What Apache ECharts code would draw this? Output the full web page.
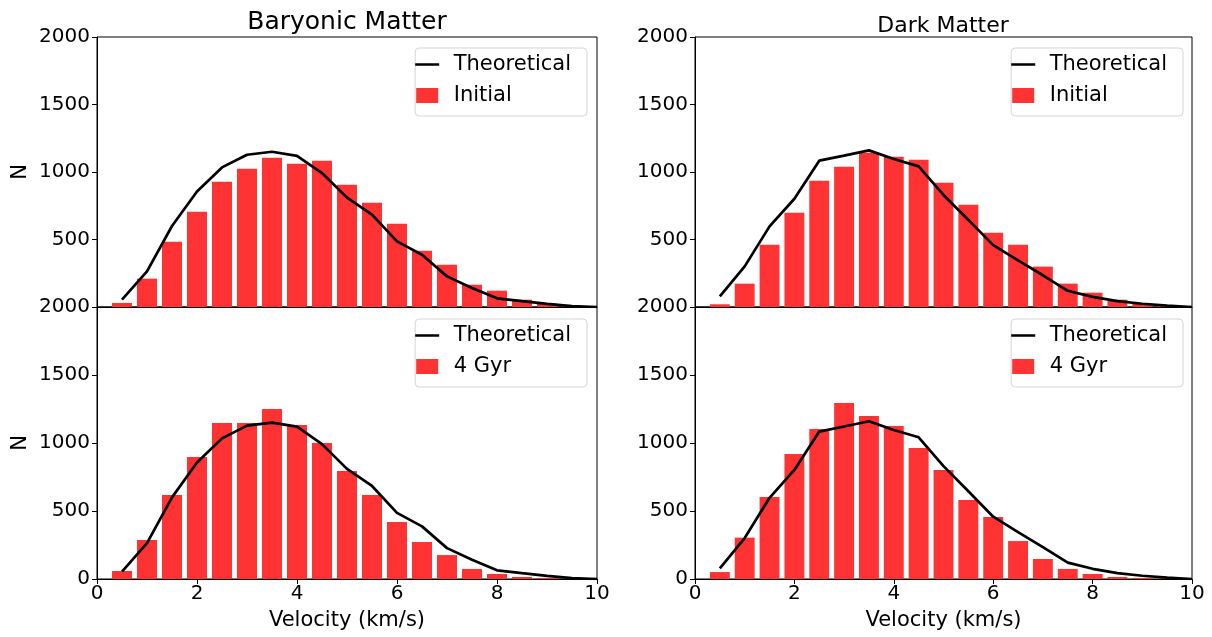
<!DOCTYPE html>
<html>
<head>
<meta charset="utf-8">
<script src="https://cdn.jsdelivr.net/npm/echarts@6/dist/echarts.min.js"></script>
<style>
html,body{margin:0;padding:0;background:#fff;}
#c{width:1212px;height:637px;}
</style>
</head>
<body>
<div id="c"></div>
<script>
// ---- data ----
const barX = [0.5,1,1.5,2,2.5,3,3.5,4,4.5,5,5.5,6,6.5,7,7.5,8,8.5,9,9.5];
const theoryX = [0.5,1,1.5,2,2.5,3,3.5,4,4.5,5,5.5,6,6.5,7,7.5,8,8.5,9,9.5,10];
const baryTheory = [54,264,600,856,1034,1128,1150,1120,992,810,684,486,387,227,141,64,43,23,7,0];
const darkTheory = [78,301,597,802,1084,1121,1160,1096,1042,830,645,458,345,235,120,75,43,24,10,0];
const baryInitial = [30,210,484,706,928,1024,1106,1061,1084,906,773,617,417,313,165,121,54,25,8];
const darkInitial = [20,173,461,699,936,1039,1143,1113,1091,921,758,550,461,299,173,106,54,25,8];
const bary4Gyr = [59,287,618,897,1147,1147,1250,1132,1000,794,618,419,272,176,74,37,15,8,2];
const dark4Gyr = [51,304,603,919,1103,1294,1199,1125,963,801,581,456,279,147,74,37,15,8,3];
const xTicks = {min:0, max:10, interval:2};
const yTicks = {min:0, max:2000, interval:500};
const titles = ['Baryonic Matter','Dark Matter'];
const legendNames = ['Theoretical','Initial','4 Gyr'];
const xName = 'Velocity (km/s)';
const yName = 'N';

// ---- chart ----
const FONT = 'DejaVu Sans';
const RED = '#ff3333';
const pairs = (xs, ys) => ys.map((v,i)=>[xs[i], v]);

const grids = [
  {left:97, top:37, width:500, height:270},
  {left:97, top:307, width:500, height:272},
  {left:695, top:37, width:497, height:270},
  {left:695, top:307, width:497, height:272}
].map(g => Object.assign(g, {show:true, borderColor:'#000', borderWidth:1, containLabel:false}));

const isBottom = i => i % 2 === 1;
const isLeft = i => i < 2;

const xAxes = grids.map((g,i)=>({
  type:'value', gridIndex:i, min:xTicks.min, max:xTicks.max, interval:xTicks.interval,
  splitLine:{show:false},
  axisLine:{show:true, onZero:false, lineStyle:{color:'#000', width:1}},
  axisTick:{show:isBottom(i), inside:false, length:5, lineStyle:{color:'#000', width:1}},
  axisLabel:{show:isBottom(i), color:'#000', fontFamily:FONT, fontSize:20, margin:5,
             formatter:v=>String(v)},
  name: (isBottom(i) ? xName : ''), nameLocation:'middle', nameGap:31,
  nameTextStyle:{color:'#000', fontFamily:FONT, fontSize:21, verticalAlign:'top'}
}));

const yAxes = grids.map((g,i)=>({
  type:'value', gridIndex:i, min:yTicks.min, max:yTicks.max, interval:yTicks.interval,
  splitLine:{show:false},
  axisLine:{show:true, lineStyle:{color:'#000', width:1}},
  axisTick:{show:true, inside:false, length:5, lineStyle:{color:'#000', width:1}},
  axisLabel:{color:'#000', fontFamily:FONT, fontSize:20, margin:7, showMinLabel:isBottom(i),
             formatter:v=>String(v)},
  name: (isLeft(i) ? yName : ''), nameLocation:'middle', nameGap:66, nameRotate:90,
  nameTextStyle:{color:'#000', fontFamily:FONT, fontSize:21}
}));

const panels = [
  {theory:baryTheory, bars:baryInitial, label:legendNames[1], barW:20},
  {theory:baryTheory, bars:bary4Gyr, label:legendNames[2], barW:20},
  {theory:darkTheory, bars:darkInitial, label:legendNames[1], barW:19.9},
  {theory:darkTheory, bars:dark4Gyr, label:legendNames[2], barW:19.9}
];

const series = [];
panels.forEach((p,i)=>{
  series.push({
    type:'bar', name:p.label, xAxisIndex:i, yAxisIndex:i,
    data:pairs(barX, p.bars), barWidth:p.barW, z:2,
    itemStyle:{color:RED}
  });
  series.push({
    type:'line', name:legendNames[0], xAxisIndex:i, yAxisIndex:i,
    data:pairs(theoryX, p.theory), showSymbol:false, symbol:'none', z:3,
    color:'#000', itemStyle:{color:'#000'},
    lineStyle:{color:'#000', width:2.7}
  });
});

const LINE_ICON = 'path://M0 6.2H24V8.8H0Z M12 0H12.01V15H12Z';
const RECT_ICON = 'path://M0 0H22V15H0Z';
const legendTops = [48, 319, 48, 319];
const legendRights = [625, 625, 29, 29];
const legends = panels.map((p,i)=>({
  orient:'vertical', top:legendTops[i], right:legendRights[i],
  padding:[6,16,10,0], itemGap:10, itemWidth:43, itemHeight:15,
  borderColor:'#d5d5d5', borderWidth:1, borderRadius:4, backgroundColor:'rgba(255,255,255,0.8)',
  textStyle:{color:'#000', fontFamily:FONT, fontSize:21},
  selectedMode:false, symbolKeepAspect:true,
  data:[
    {name:legendNames[0], icon:LINE_ICON},
    {name:p.label, icon:RECT_ICON}
  ]
}));

const chart = echarts.init(document.getElementById('c'), null, {renderer:'canvas'});
chart.setOption({
  animation:false,
  backgroundColor:'#fff',
  title:[
    {text:titles[0], left:347, top:10, textAlign:'center', padding:0,
     textStyle:{color:'#000', fontFamily:FONT, fontSize:25, fontWeight:'normal'}},
    {text:titles[1], left:943, top:15, textAlign:'center', padding:0,
     textStyle:{color:'#000', fontFamily:FONT, fontSize:22, fontWeight:'normal'}}
  ],
  legend:legends,
  grid:grids,
  xAxis:xAxes,
  yAxis:yAxes,
  series:series
});
</script>
</body>
</html>
